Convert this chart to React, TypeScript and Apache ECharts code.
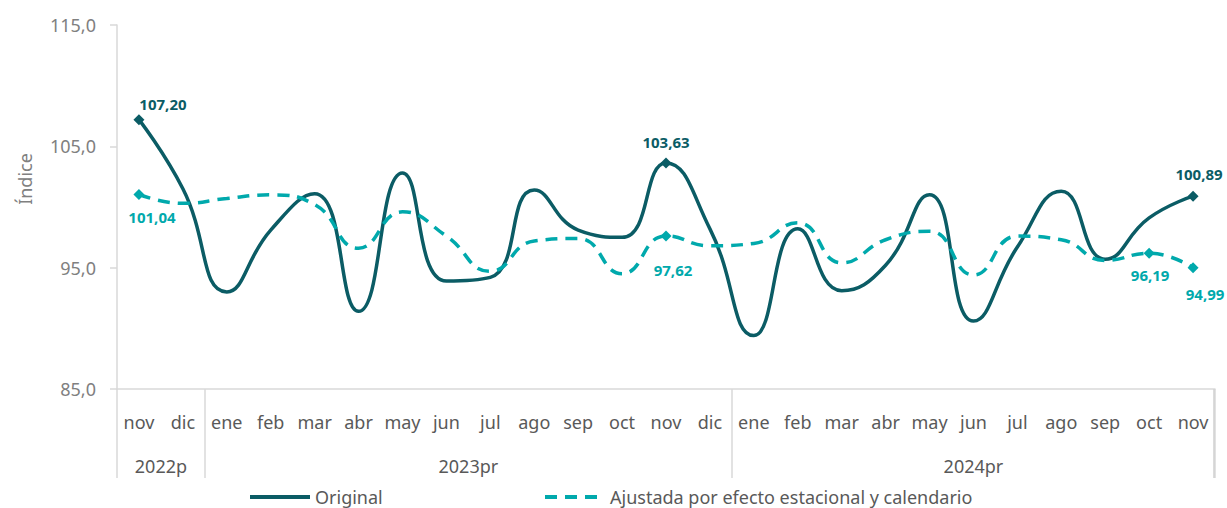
import React, { useEffect, useRef } from "react";
import * as echarts from "echarts";

const months = ["nov", "dic", "ene", "feb", "mar", "abr", "may", "jun", "jul", "ago", "sep", "oct", "nov", "dic", "ene", "feb", "mar", "abr", "may", "jun", "jul", "ago", "sep", "oct", "nov"];
const yearLabels = ["2022p", "2023pr", "2024pr"];
const yearCenters = [0.5, 7.5, 19];
const yearBounds = [-0.5, 1.5, 13.5, 24.5];
const yTicks = [85, 95, 105, 115];

const original = [107.20, 101.5, 93.0, 98.1, 101.1, 91.4, 102.8, 93.9, 94.2, 101.4, 98.1, 97.5, 103.63, 98.2, 89.4, 98.2, 93.1, 95.2, 101.0, 90.6, 96.7, 101.3, 95.7, 99.1, 100.89];
const adjusted = [101.04, 100.3, 100.7, 101.0, 100.2, 96.6, 99.6, 97.6, 94.7, 97.2, 97.4, 94.5, 97.62, 96.8, 97.0, 98.7, 95.4, 97.3, 98.0, 94.4, 97.6, 97.3, 95.6, 96.19, 94.99];

// labelled points: index -> [position, dx, dy]
const originalLabels: Record<number, [string, number, number]> = { 0: ["top", 24, 2], 12: ["top", 0, -3], 24: ["top", 6, -4] };
const adjustedLabels: Record<number, [string, number, number]> = { 0: ["bottom", 13, 5], 12: ["bottom", 7, 16], 23: ["bottom", 1, 4], 24: ["bottom", 12, 8] };

const DARK = "#0B5C65";
const LIGHT = "#00A9AC";
const FONT = "Noto Sans";
const SEP = "#d9d9d9";

const GRID = { left: 117, right: 12, top: 25, bottom: 119 };
const W = 1227;
const H = 508;

function buildData(values: number[], labels: Record<number, [string, number, number]>, color: string) {
  return values.map((v, i) => {
    const l = labels[i];
    if (!l) return { value: v };
    return {
      value: v,
      symbol: "diamond",
      symbolSize: 11,
      label: {
        show: true,
        position: l[0],
        distance: 5,
        offset: [l[1], l[2]],
        formatter: (p: any) => p.value.toFixed(2).replace(".", ","),
        color,
        fontFamily: FONT,
        fontWeight: "bold",
        fontSize: 15,
      },
    };
  });
}

const legendBase = {
  top: 488,
  padding: 0,
  itemWidth: 60,
  itemHeight: 16,
  itemStyle: { color: "rgba(0,0,0,0)", borderColor: "rgba(0,0,0,0)", borderWidth: 0, opacity: 0 },
  lineStyle: { width: 4 },
  textStyle: { fontFamily: FONT, fontSize: 18, color: "#595959" },
};

export default function App() {
  const ref = useRef<HTMLDivElement>(null);
  useEffect(() => {
    const chart = echarts.init(ref.current!, null, { renderer: "svg" });
    const xr = W - GRID.right - 0.75;
    const yb = H - GRID.bottom;
    chart.setOption({
      animation: false,
      backgroundColor: "#ffffff",
      grid: { ...GRID, containLabel: false },
      legend: [
        { ...legendBase, data: ["Original"], left: 248 },
        { ...legendBase, data: ["Ajustada por efecto estacional y calendario"], left: 543 },
      ],
      xAxis: [
        {
          type: "category",
          data: months,
          boundaryGap: true,
          axisLine: { show: true, onZero: false, lineStyle: { color: SEP, width: 1.5 } },
          axisTick: { show: false },
          axisLabel: { interval: 0, margin: 24, fontFamily: FONT, fontSize: 18, color: "#595959" },
          splitLine: { show: false },
        },
        {
          type: "value",
          min: -0.5,
          max: 24.5,
          position: "bottom",
          axisLine: { show: false, onZero: false },
          splitLine: { show: false },
          axisTick: { show: true, customValues: yearBounds, length: 89, lineStyle: { color: SEP, width: 1.5 } },
          axisLabel: {
            customValues: yearCenters,
            margin: 68,
            fontFamily: FONT,
            fontSize: 18,
            color: "#595959",
            formatter: (v: number) => {
              const i = yearCenters.indexOf(v);
              return i >= 0 ? yearLabels[i] : "";
            },
          },
        },
      ],
      yAxis: [
        {
          type: "value",
          min: 85,
          max: 115,
          axisLine: { show: true, onZero: false, lineStyle: { color: SEP, width: 1.5 } },
          axisTick: { show: true, customValues: yTicks, length: 7, lineStyle: { color: SEP, width: 1.5 } },
          axisLabel: {
            customValues: yTicks,
            margin: 21,
            fontFamily: FONT,
            fontSize: 18,
            color: "#808080",
            formatter: (v: number) => v.toFixed(1).replace(".", ","),
          },
          splitLine: { show: false },
        },
      ],
      graphic: [
        {
          id: "yname",
          type: "text",
          x: 25,
          y: 179,
          rotation: Math.PI / 2,
          style: { text: "Índice", fontFamily: FONT, fontSize: 18, fill: "#808080", align: "center", verticalAlign: "middle" },
        },
        {
          id: "rightSep",
          type: "rect",
          z: 100,
          shape: { x: xr - 1, y: yb, width: 1.5, height: 89 },
          style: { fill: "#d0d0d0" },
          silent: true,
        },
      ],
      series: [
        {
          name: "Original",
          type: "line",
          xAxisIndex: 0,
          smooth: 0.5,
          symbol: "none",
          showSymbol: true,
          showAllSymbol: true,
          color: DARK,
          itemStyle: { color: DARK },
          lineStyle: { color: DARK, width: 3.5 },
          data: buildData(original, originalLabels, DARK),
        },
        {
          name: "Ajustada por efecto estacional y calendario",
          type: "line",
          xAxisIndex: 0,
          smooth: 0.5,
          symbol: "none",
          showSymbol: true,
          showAllSymbol: true,
          color: LIGHT,
          itemStyle: { color: LIGHT },
          lineStyle: { color: LIGHT, width: 3.5, type: [12, 8] },
          data: buildData(adjusted, adjustedLabels, LIGHT),
        },
      ],
    });
    return () => chart.dispose();
  }, []);
  return <div ref={ref} style={{ position: "fixed", left: 0, top: 0, width: W, height: H }} />;
}
